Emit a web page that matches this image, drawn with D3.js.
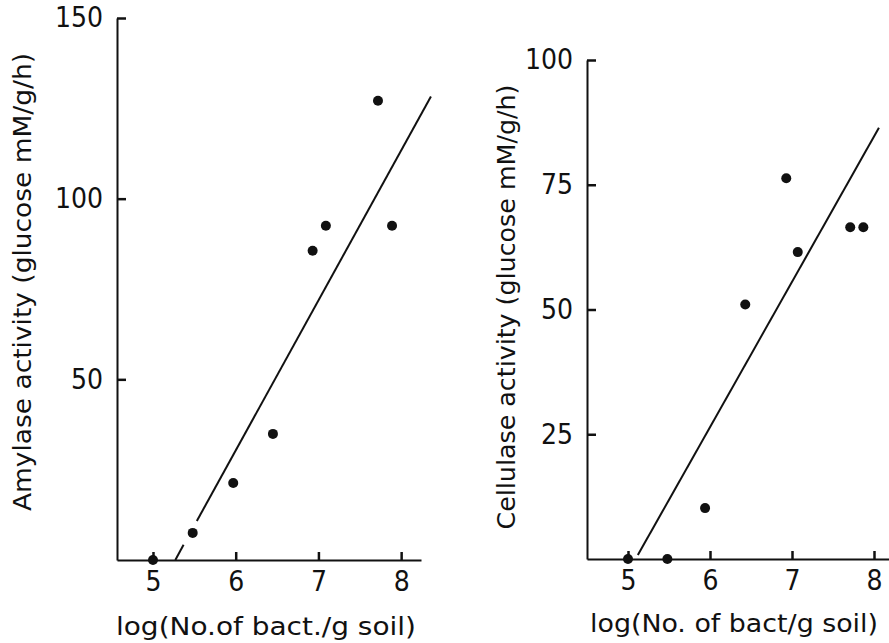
<!DOCTYPE html>
<html>
<head>
<meta charset="utf-8">
<script src="https://cdn.jsdelivr.net/npm/d3@7"></script>
<style>
  html, body { margin: 0; padding: 0; background: #fff; }
  svg { display: block; }
</style>
</head>
<body>
<div id="container"></div>
<script>
"use strict";

const width = 889;
const height = 643;
const fontFamily = "'DejaVu Sans Condensed', 'Liberation Sans', sans-serif";

// amylase panel (left)
const amylaseLogBact = [5.0, 5.48, 5.97, 6.45, 6.93, 7.09, 7.72, 7.89];
const amylaseActivity = [0, 7.5, 21.3, 34.9, 85.6, 92.5, 127.1, 92.5];
const amylaseTicks = [50, 100, 150];
const amylaseFitX = [5.53, 8.36];
const amylaseFitY = [10.8, 128.3];
const amylaseDashX = [5.27, 5.37];
const amylaseDashY = [0, 4.2];

// cellulase panel (right)
const cellulaseLogBact = [5.0, 5.48, 5.94, 6.43, 6.93, 7.07, 7.71, 7.87];
const cellulaseActivity = [0, 0, 10.2, 51.0, 76.3, 61.5, 66.5, 66.5];
const cellulaseTicks = [25, 50, 75, 100];
const cellulaseFitX = [5.12, 8.06];
const cellulaseFitY = [0.8, 86.4];

const xTicks = [5, 6, 7, 8];

const svg = d3
  .select("#container")
  .append("svg")
  .attr("width", width)
  .attr("height", height);

const styleAxis = (a) => {
  a.attr("font-size", null).attr("font-family", null);
  a.selectAll("text")
    .attr("fill", "#111")
    .style("font-family", fontFamily)
    .style("font-size", "28px");
  a.selectAll(".domain").attr("stroke", "#111").attr("stroke-width", 2);
  a.selectAll(".tick line").attr("stroke", "#111").attr("stroke-width", 2.5);
};

const drawPanel = (p) => {
  const xScale = d3.scaleLinear().domain(p.xDomain).range(p.xRange);
  const yScale = d3.scaleLinear().domain(p.yDomain).range(p.yRange);

  const g = svg.append("g");

  const xAxis = d3
    .axisBottom(xScale)
    .tickValues(xTicks)
    .tickFormat(d3.format("d"))
    .tickSize(-8)
    .tickSizeOuter(0)
    .tickPadding(11);

  const yAxis = d3
    .axisLeft(yScale)
    .tickValues(p.yTicks)
    .tickFormat(d3.format("d"))
    .tickSize(-9)
    .tickSizeOuter(0)
    .tickPadding(14);

  g.append("g")
    .attr("transform", `translate(0, ${p.yRange[0]})`)
    .call(xAxis)
    .call(styleAxis);

  g.append("g")
    .attr("transform", `translate(${p.xRange[0]}, 0)`)
    .call(yAxis)
    .call(styleAxis);

  const line = d3
    .line()
    .x((d) => xScale(d[0]))
    .y((d) => yScale(d[1]));

  g.append("path")
    .datum(d3.zip(p.fitX, p.fitY))
    .attr("d", line)
    .attr("fill", "none")
    .attr("stroke", "#111")
    .attr("stroke-width", 2);

  if (p.dashX) {
    g.append("path")
      .datum(d3.zip(p.dashX, p.dashY))
      .attr("d", line)
      .attr("fill", "none")
      .attr("stroke", "#111")
      .attr("stroke-width", 2);
  }

  g.selectAll("circle")
    .data(d3.zip(p.xs, p.ys))
    .enter()
    .append("circle")
    .attr("cx", (d) => xScale(d[0]))
    .attr("cy", (d) => yScale(d[1]))
    .attr("r", 5)
    .attr("fill", "#111");

  g.append("text")
    .attr("x", p.xTitlePos[0])
    .attr("y", p.xTitlePos[1])
    .attr("text-anchor", "middle")
    .attr("dominant-baseline", "central")
    .attr("textLength", p.xTitleLen)
    .attr("lengthAdjust", "spacingAndGlyphs")
    .style("font-family", fontFamily)
    .style("font-size", "25px")
    .attr("fill", "#111")
    .text(p.xTitle);

  g.append("text")
    .attr("text-anchor", "middle")
    .attr("dominant-baseline", "central")
    .attr("transform", `translate(${p.yTitlePos[0]}, ${p.yTitlePos[1]}) rotate(-90)`)
    .attr("textLength", p.yTitleLen)
    .attr("lengthAdjust", "spacingAndGlyphs")
    .style("font-family", fontFamily)
    .style("font-size", "25px")
    .attr("fill", "#111")
    .text(p.yTitle);
};

drawPanel({
  xDomain: [4.565, 8.24],
  xRange: [117, 421],
  yDomain: [0, 150],
  yRange: [560, 18],
  yTicks: amylaseTicks,
  xs: amylaseLogBact,
  ys: amylaseActivity,
  fitX: amylaseFitX,
  fitY: amylaseFitY,
  dashX: amylaseDashX,
  dashY: amylaseDashY,
  xTitle: "log(No.of bact./g soil)",
  xTitlePos: [266, 626],
  xTitleLen: 300,
  yTitle: "Amylase activity (glucose mM/g/h)",
  yTitlePos: [22, 282],
  yTitleLen: 458,
});

drawPanel({
  xDomain: [4.5, 8.35],
  xRange: [587, 902.7],
  yDomain: [0, 100],
  yRange: [559, 60],
  yTicks: cellulaseTicks,
  xs: cellulaseLogBact,
  ys: cellulaseActivity,
  fitX: cellulaseFitX,
  fitY: cellulaseFitY,
  xTitle: "log(No. of bact/g soil)",
  xTitlePos: [734, 623],
  xTitleLen: 288,
  yTitle: "Cellulase activity (glucose mM/g/h)",
  yTitlePos: [506, 307],
  yTitleLen: 445,
});
</script>
</body>
</html>
